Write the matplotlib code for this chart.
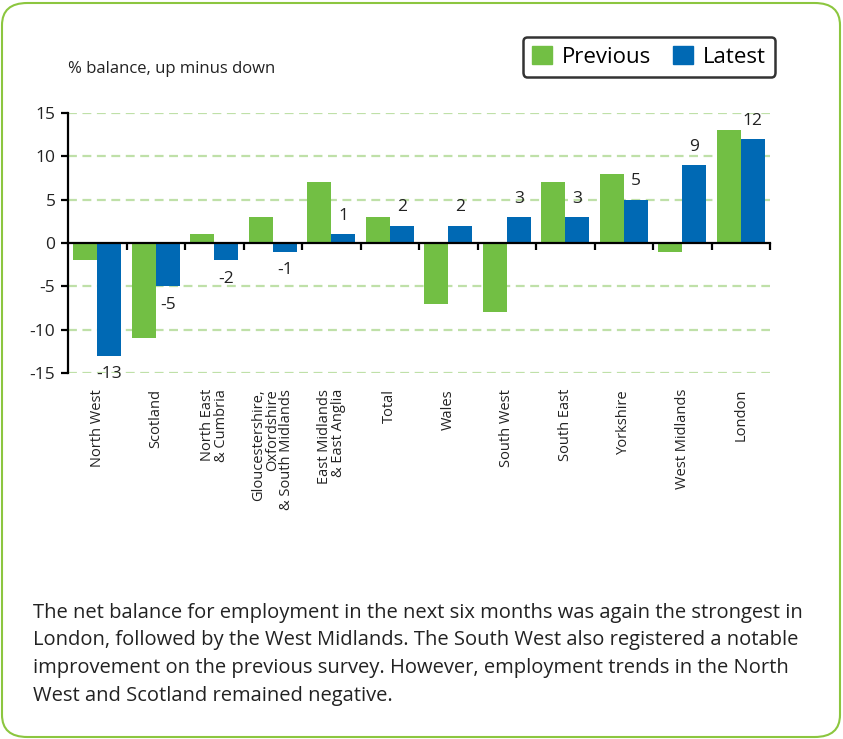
import numpy as np
import matplotlib
matplotlib.use('Agg')
import matplotlib.pyplot as plt
import matplotlib.transforms as mtransforms
from matplotlib.patches import FancyBboxPatch, Patch

plt.rcParams['font.family'] = ['Open Sans', 'DejaVu Sans']

# data
regions = ['North West', 'Scotland', 'North East\n& Cumbria',
           'Gloucestershire,\nOxfordshire\n& South Midlands',
           'East Midlands\n& East Anglia', 'Total', 'Wales', 'South West',
           'South East', 'Yorkshire', 'West Midlands', 'London']
previous = [-2, -11, 1, 3, 7, 3, -7, -8, 7, 8, -1, 13]
latest = [-13, -5, -2, -1, 1, 2, 2, 3, 3, 5, 9, 12]
y_ticks = [-15, -10, -5, 0, 5, 10, 15]

green = '#72BF44'
blue = '#0069B4'
grid_green = '#BFE0A8'
txt = '#222222'

W, H = 843, 739
fig = plt.figure(figsize=(W / 100, H / 100), dpi=100)

# rounded green frame around everything
frame = FancyBboxPatch((2 / W, 2 / H), 1 - 5 / W, 1 - 5 / H,
                       boxstyle='round,pad=0,rounding_size=0.03',
                       transform=fig.transFigure, fill=False,
                       edgecolor='#8CC63F', linewidth=1.5)
fig.patches.append(frame)

ax = fig.add_axes([68 / W, 1 - 373 / H, (770 - 68) / W, (373 - 113) / H])

x = np.arange(len(regions)) + 0.5
bw = 0.41
ax.bar(x - bw / 2, previous, bw, color=green, zorder=3)
ax.bar(x + bw / 2, latest, bw, color=blue, zorder=3)

# value labels for the latest series
for xi, v in zip(x, latest):
    off = 2.1 if v > 0 else -2.1
    ax.text(xi + bw / 2, v + off, str(v), ha='center', va='center',
            fontsize=12.5, color=txt)

ax.set_xlim(0, 12)
ax.set_ylim(-15, 15)
ax.set_yticks(y_ticks)
ax.set_yticklabels([str(t) for t in y_ticks], fontsize=12.5, color=txt)

for t in [-15, -10, -5, 5, 10, 15]:
    ax.axhline(t, color=grid_green, linestyle=(0, (4, 2.5)), linewidth=1.6, zorder=1)

ax.spines['top'].set_visible(False)
ax.spines['right'].set_visible(False)
ax.spines['bottom'].set_position(('data', 0))
ax.spines['bottom'].set_linewidth(1.6)
ax.spines['left'].set_linewidth(1.6)
ax.spines['bottom'].set_zorder(4)
ax.set_xticks(np.arange(1, 13))
ax.set_xticklabels([])
ax.tick_params(axis='x', direction='out', length=5, width=1.6)
ax.tick_params(axis='y', direction='out', length=5, width=1.6, pad=4)

# category labels, rotated below the plot
lab_tr = mtransforms.blended_transform_factory(ax.transData, fig.transFigure)
for xi, name in zip(x, regions):
    ax.text(xi, 1 - 389 / H, name, transform=lab_tr,
            rotation=90, ha='center', va='top', multialignment='right',
            fontsize=10.5, linespacing=0.92, color=txt)

fig.text(68 / W, 1 - 69 / H, '% balance, up minus down', fontsize=12,
         ha='left', va='center', color=txt)

handles = [Patch(color=green, label='Previous'), Patch(color=blue, label='Latest')]
leg = fig.legend(handles=handles, ncol=2, loc='upper right',
                 bbox_to_anchor=(775 / W, 1 - 37 / H), fontsize=16,
                 frameon=True, fancybox=True, handlelength=0.9, handleheight=0.9,
                 handletextpad=0.45, columnspacing=1.0, borderpad=0.4,
                 borderaxespad=0)
leg.get_frame().set_edgecolor('black')
leg.get_frame().set_linewidth(1.8)

para = ('The net balance for employment in the next six months was again the strongest in\n'
        'London, followed by the West Midlands. The South West also registered a notable\n'
        'improvement on the previous survey. However, employment trends in the North\n'
        'West and Scotland remained negative.')
fig.text(33 / W, 1 - 603 / H, para, fontsize=14.5, ha='left', va='top',
         linespacing=1.5, color=txt)

fig.savefig('out.png', dpi=100)
